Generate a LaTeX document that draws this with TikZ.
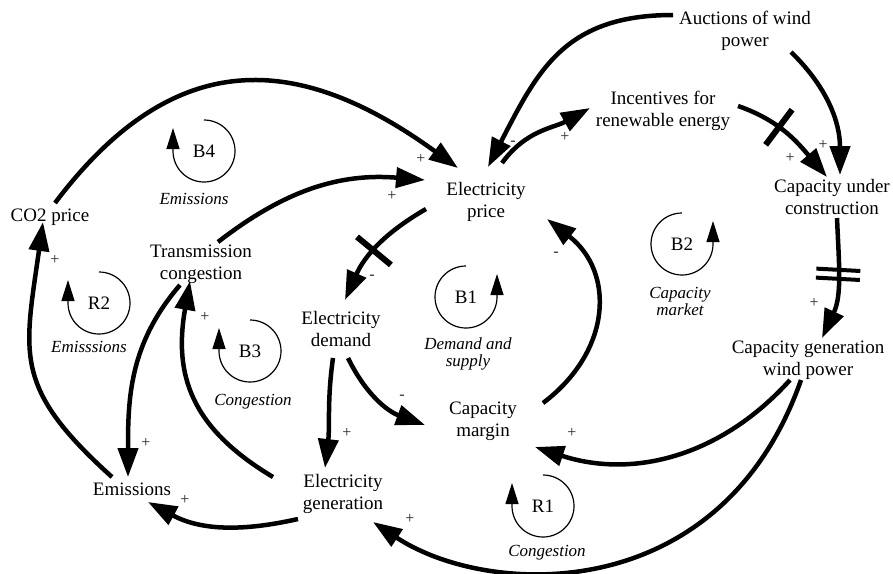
\documentclass[tikz,border=0pt]{standalone}
\usepackage{fontspec}
\setmainfont{Liberation Serif}
\usetikzlibrary{arrows.meta,decorations.markings}
\begin{document}
\begin{tikzpicture}[x=1pt,y=-1pt,
  var/.style={font=\fontsize{19}{22}\selectfont, align=center, inner sep=0pt},
  loopname/.style={font=\fontsize{19}{22}\selectfont, inner sep=0pt},
  loopcaption/.style={font=\fontsize{17}{17}\selectfont\itshape, align=center, inner sep=0pt},
  polarity/.style={font=\fontsize{16}{16}\selectfont, inner sep=0pt, text=black!85},
  link/.style={line width=4.5pt, -{Triangle[length=29pt,width=20pt]}},
  loopmark/.style={line width=1.2pt, -{Triangle[length=21pt,width=13pt]}},
  delayone/.style={postaction={decorate, decoration={markings,
      mark=at position #1 with {\draw[arrows=-, line width=6pt] (0pt,-22pt) -- (0pt,22pt);}}}},
  delaytwo/.style={postaction={decorate, decoration={markings,
      mark=at position #1 with {\draw[arrows=-, line width=4pt] (-4.5pt,-22pt) -- (-4.5pt,22pt) (4.5pt,-22pt) -- (4.5pt,22pt);}}}},
]
\fill[white] (0,0) rectangle (893,573);
\useasboundingbox (0,0) rectangle (893,573);

% variables
\node[var] (auct) at (745,31) {Auctions of wind\\power};
\node[var] (incent) at (663,111) {Incentives for\\renewable energy};
\node[var] (cuc) at (832,197) {Capacity under\\construction};
\node[var] (price) at (486,202) {Electricity\\price};
\node[var] (co2) at (50,217) {CO2 price};
\node[var] (trans) at (201,264) {Transmission\\congestion};
\node[var] (demand) at (341,329) {Electricity\\demand};
\node[var] (margin) at (483,421) {Capacity\\margin};
\node[var] (cgwp) at (808,360) {Capacity generation\\wind power};
\node[var] (emis) at (132,489) {Emissions};
\node[var] (gen) at (343,494) {Electricity\\generation};

% causal links
\draw[link] ([shift={(-72,-16)}]auct.center) .. controls +(-108,0) and +(50,-97) .. ([shift={(2,-35)}]price.center);
\draw[link] ([shift={(16,-39)}]price.center) .. controls +(24,-33) and +(-36,20) .. ([shift={(-73,-3)}]incent.center);
\draw[link,delayone=0.4] ([shift={(75,-5)}]incent.center) .. controls +(42,14.5) and +(-29,-34) .. ([shift={(-5,-20)}]cuc.center);
\draw[link] ([shift={(46,21)}]auct.center) .. controls +(37,36) and +(0,-52) .. ([shift={(8,-22)}]cuc.center);
\draw[link,delaytwo=0.46] ([shift={(5,21)}]cuc.center) .. controls +(2,47) and +(20,-43) .. ([shift={(14,-22)}]cgwp.center);
\draw[link] ([shift={(-18,20)}]cgwp.center) .. controls +(-69,76.5) and +(98,32) .. ([shift={(52,26)}]margin.center);
\draw[link] ([shift={(-7,20)}]cgwp.center) .. controls +(-80,228) and +(115,76) .. ([shift={(30,28)}]gen.center);
\draw[link] ([shift={(60,-18)}]margin.center) .. controls +(69,-52) and +(68,53) .. ([shift={(61,17)}]price.center);
\draw[link,delayone=0.54] ([shift={(-60,7)}]price.center) .. controls +(-41.5,24) and +(19.5,-44) .. ([shift={(4,-29)}]demand.center);
\draw[link] ([shift={(-8,29)}]demand.center) .. controls +(-6,42.6) and +(5,-43) .. ([shift={(-18,-26)}]gen.center);
\draw[link] ([shift={(7,29)}]demand.center) .. controls +(17.5,36) and +(-37.6,-13.7) .. ([shift={(-58,4)}]margin.center);
\draw[link] ([shift={(-45,25)}]gen.center) .. controls +(-57.5,13) and +(52,28) .. ([shift={(16,13)}]emis.center);
\draw[link] ([shift={(-70,-17)}]gen.center) .. controls +(-82,-49) and +(-16.6,94) .. ([shift={(-11,17)}]trans.center);
\draw[link] ([shift={(-21,21)}]trans.center) .. controls +(-51,59) and +(0,-78) .. ([shift={(-4,-12)}]emis.center);
\draw[link] ([shift={(-20,-12)}]emis.center) .. controls +(-99.6,-89.7) and +(-18.7,132.7) .. ([shift={(-7,5)}]co2.center);
\draw[link] ([shift={(5,-14)}]co2.center) .. controls +(119,-158) and +(-160,-116) .. ([shift={(-28,-34)}]price.center);
\draw[link] ([shift={(17,-22)}]trans.center) .. controls +(67,-52) and +(-85,-7) .. ([shift={(-61,-22)}]price.center);

% link polarities
\node[polarity] (s1) at (513,143) {-};
\node[polarity] (s2) at (565,137) {+};
\node[polarity] (s3) at (790,158) {+};
\node[polarity] (s4) at (823,145) {+};
\node[polarity] (s5) at (814,303) {+};
\node[polarity] (s6) at (572,433) {+};
\node[polarity] (s7) at (410,519) {+};
\node[polarity] (s8) at (556,254) {-};
\node[polarity] (s9) at (372,277) {-};
\node[polarity] (s10) at (347,433) {+};
\node[polarity] (s11) at (402,397) {-};
\node[polarity] (s12) at (185,500) {+};
\node[polarity] (s13) at (205,317) {+};
\node[polarity] (s14) at (146,443) {+};
\node[polarity] (s15) at (55,260) {+};
\node[polarity] (s16) at (421,159) {+};
\node[polarity] (s17) at (392,196) {+};

% loop markers
\draw[loopmark] (204,120) arc[start angle=90,end angle=-180,radius=31pt] -- ++(0,-23);
\draw[loopmark] (99,272) arc[start angle=90,end angle=-180,radius=31pt] -- ++(0,-23);
\draw[loopmark] (250,320) arc[start angle=90,end angle=-180,radius=31pt] -- ++(0,-23);
\draw[loopmark] (543,475) arc[start angle=90,end angle=-180,radius=31pt] -- ++(0,-23);
\draw[loopmark] (466,266) arc[start angle=90,end angle=360,radius=31pt] -- ++(0,-23);
\draw[loopmark] (682,213) arc[start angle=90,end angle=360,radius=31pt] -- ++(0,-23);

\node[loopname] (b4) at (204,151) {B4};
\node[loopname] (r2) at (99,303) {R2};
\node[loopname] (b3) at (250,351) {B3};
\node[loopname] (r1) at (543,506) {R1};
\node[loopname] (b1) at (466,297) {B1};
\node[loopname] (b2) at (682,244) {B2};

\node[loopcaption] (b4cap) at (194,199) {Emissions};
\node[loopcaption] (r2cap) at (89,347) {Emisssions};
\node[loopcaption] (b3cap) at (253,402) {Congestion};
\node[loopcaption] (b1cap) at (468,354) {Demand and\\supply};
\node[loopcaption] (b2cap) at (680,301) {Capacity\\market};
\node[loopcaption] (r1cap) at (547,553) {Congestion};
\end{tikzpicture}
\end{document}
